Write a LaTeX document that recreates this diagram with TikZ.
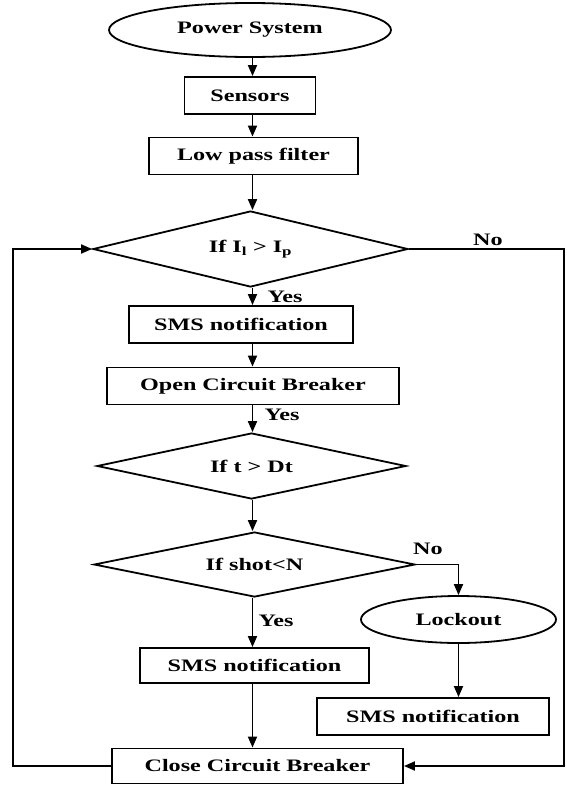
\documentclass[tikz,border=0pt]{standalone}
\usepackage{fontspec}
\setmainfont{Liberation Serif}[FakeStretch=1.38]
\usetikzlibrary{shapes.geometric,arrows.meta}
\begin{document}
\begin{tikzpicture}[x=1pt,y=-1pt,
  every node/.style={font=\fontsize{17.5}{20}\selectfont\bfseries, inner sep=0pt},
  box/.style={draw, line width=1.9pt, rectangle, minimum width=#1, minimum height=37pt},
  oval/.style={draw, line width=1.8pt, ellipse, minimum width=#1},
  decision/.style={draw, line width=1.8pt, diamond, aspect=5, minimum width=#1},
  conn/.style={line width=1.8pt, -{Triangle[length=11pt,width=9pt]}}
]
\useasboundingbox (0,0) rectangle (566,785);

% main column
\node[oval=282, minimum height=54pt] (ps) at (250,30) {Power System};
\node[box=131] (sens) at (250,95.5) {Sensors};
\node[box=209] (lpf) at (253.5,156) {Low pass filter};
\node[decision=315, minimum height=76pt] (d1) at (250.5,249) {If I\textsubscript{l} > I\textsubscript{p}};
\node[box=224] (sms1) at (241,324.5) {SMS notification};
\node[box=292] (ocb) at (253,386) {Open Circuit Breaker};
\node[decision=309, minimum height=66pt] (d2) at (251.5,466) {If t > Dt};
\node[decision=321, minimum height=65pt] (d3) at (254.5,564.5) {If shot<N};
\node[box=229, minimum height=35pt] (sms2) at (254.5,665.5) {SMS notification};
\node[box=291, minimum height=35pt] (ccb) at (257.5,766) {Close Circuit Breaker};

% lockout branch
\node[oval=195, minimum height=47pt] (lock) at (458.5,619.5) {Lockout};
\node[box=232] (sms3) at (433,716.5) {SMS notification};

% branch labels
\node (no1) at (488,240) {No};
\node (yes1) at (285,297) {Yes};
\node (yes2) at (282,415) {Yes};
\node (no2) at (428,549) {No};
\node (yes3) at (276,621) {Yes};

% guide coordinates for the vertical runs
\coordinate (ax) at (252.5,0);
\coordinate (lft) at (13,0);
\coordinate (rgt) at (564,0);

% flow along the main column
\draw[conn] (ps.south -| ax) -- (sens.north -| ax);
\draw[conn] (sens.south -| ax) -- (lpf.north -| ax);
\draw[conn] (lpf.south -| ax) -- (d1.north -| ax);
\draw[conn] (d1.south -| ax) -- (sms1.north -| ax);
\draw[conn] (sms1.south -| ax) -- (ocb.north -| ax);
\draw[conn] (ocb.south -| ax) -- (d2.north -| ax);
\draw[conn] (d2.south -| ax) -- (d3.north -| ax);
\draw[conn] (d3.south -| ax) -- (sms2.north -| ax);
\draw[conn] (sms2.south -| ax) -- (ccb.north -| ax);

% lockout path
\draw[conn] (d3.east) -- (lock.north |- d3.east) -- (lock.north);
\draw[conn] (lock.south) -- (sms3.north -| lock.south);

% "No" from the first test back to closing the breaker
\draw[conn] (d1.east) -- (d1.east -| rgt) -- (ccb.east -| rgt) -- (ccb.east);

% loop from closing the breaker back to the first test
\draw[conn] (ccb.west) -- (ccb.west -| lft) -- (d1.west -| lft) -- (d1.west);
\end{tikzpicture}
\end{document}
